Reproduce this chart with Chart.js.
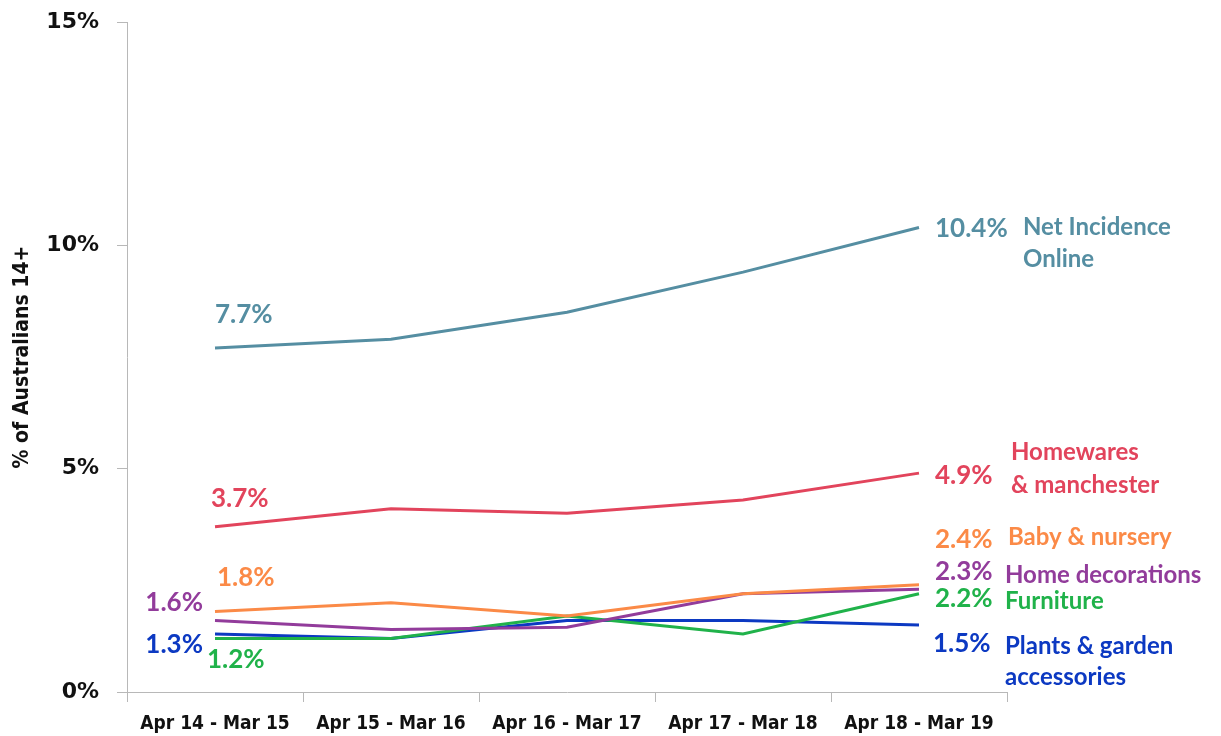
<!DOCTYPE html>
<html>
<head>
<meta charset="utf-8">
<script src="https://cdn.jsdelivr.net/npm/chart.js@4/dist/chart.umd.min.js"></script>
<style>
  html, body { margin: 0; padding: 0; background: #fff; }
  #wrap { width: 1221px; height: 736px; }
</style>
</head>
<body>
<div id="wrap"><canvas id="lineChart"></canvas></div>
<script>
// Data
const periods = ['Apr 14 - Mar 15', 'Apr 15 - Mar 16', 'Apr 16 - Mar 17', 'Apr 17 - Mar 18', 'Apr 18 - Mar 19'];
const netIncidence = [7.7, 7.9, 8.5, 9.4, 10.4];
const homewares = [3.7, 4.1, 4.0, 4.3, 4.9];
const babyNursery = [1.8, 2.0, 1.7, 2.2, 2.4];
const homeDecorations = [1.6, 1.4, 1.45, 2.2, 2.3];
const furniture = [1.2, 1.2, 1.7, 1.3, 2.2];
const plantsGarden = [1.3, 1.2, 1.6, 1.6, 1.5];
const yTicks = [0, 5, 10, 15];

const seriesNames = [
    ['Net Incidence', 'Online'],
    ['Homewares', '& manchester'],
    ['Baby & nursery'],
    ['Home decorations'],
    ['Furniture'],
    ['Plants & garden', 'accessories']
];

const colors = ['#558ea2', '#e2445c', '#fb8a47', '#923c9b', '#20b24a', '#0c39c2'];

// where the annotations sit, relative to first / last point
const labelPos = [
    { first: { dx: 0, dy: -33, align: 'left' }, last: { dx: 16, dy: 1 }, name: { dx: 104, dy: 0, lh: 32 } },
    { first: { dx: -4, dy: -28, align: 'left' }, last: { dx: 16, dy: 2 }, name: { dx: 92, dy: -21, lh: 33 } },
    { first: { dx: 2, dy: -34, align: 'left' }, last: { dx: 16, dy: -45 }, name: { dx: 89, dy: -48, lh: 30 } },
    { first: { dx: -12, dy: -18, align: 'right' }, last: { dx: 16, dy: -18 }, name: { dx: 86, dy: -14, lh: 30 } },
    { first: { dx: -8, dy: 21, align: 'left' }, last: { dx: 16, dy: 5 }, name: { dx: 86, dy: 8, lh: 30 } },
    { first: { dx: -12, dy: 11, align: 'right' }, last: { dx: 14, dy: 19 }, name: { dx: 86, dy: 21, lh: 31 } }
];

const allSeries = [netIncidence, homewares, babyNursery, homeDecorations, furniture, plantsGarden];

const data = {
    labels: periods,
    datasets: allSeries.map((vals, i) => ({
        label: seriesNames[i].join(' '),
        data: vals,
        borderColor: colors[i],
        borderWidth: 3,
        pointRadius: 0,
        tension: 0,
        fill: false
    }))
};

// annotation plugin
const endLabels = {
    id: 'endLabels',
    afterDatasetsDraw(chart) {
        const ctx = chart.ctx;
        ctx.save();
        ctx.textBaseline = 'middle';
        chart.data.datasets.forEach((ds, i) => {
            const meta = chart.getDatasetMeta(i);
            const p0 = meta.data[0];
            const pN = meta.data[meta.data.length - 1];
            const pos = labelPos[i];
            ctx.fillStyle = colors[i];
            ctx.font = 'bold 26px Lato';
            ctx.textAlign = pos.first.align;
            ctx.fillText(ds.data[0].toFixed(1) + '%', p0.x + pos.first.dx, p0.y + pos.first.dy);
            ctx.textAlign = 'left';
            ctx.fillText(ds.data[ds.data.length - 1].toFixed(1) + '%', pN.x + pos.last.dx, pN.y + pos.last.dy);
            ctx.font = 'bold 24px Lato';
            seriesNames[i].forEach((line, k) => {
                ctx.fillText(line, pN.x + pos.name.dx, pN.y + pos.name.dy + k * pos.name.lh);
            });
        });
        ctx.restore();
    }
};

const options = {
    responsive: true,
    maintainAspectRatio: false,
    animation: false,
    layout: {
        padding: { top: 22, right: 214, left: 0, bottom: 0 }
    },
    scales: {
        x: {
            offset: true,
            grid: {
                display: true,
                offset: true,
                drawOnChartArea: false,
                tickLength: 10,
                color: '#b8b8b8'
            },
            border: { color: '#b8b8b8', width: 1 },
            ticks: {
                color: '#111',
                padding: 11,
                maxRotation: 0,
                font: { family: 'DejaVu Sans Condensed', weight: 'bold', size: 19 }
            },
            afterFit(scale) {
                scale.height = 44;
                scale.paddingLeft = 0;
                scale.paddingRight = 0;
            }
        },
        y: {
            min: 0,
            max: 15,
            afterBuildTicks(scale) { scale.ticks = yTicks.map(v => ({ value: v })); },
            grid: {
                display: true,
                drawOnChartArea: false,
                tickLength: 10,
                color: '#b8b8b8'
            },
            border: { color: '#b8b8b8', width: 1 },
            ticks: {
                color: '#111',
                padding: 18,
                callback: v => v + '%',
                font: { family: 'DejaVu Sans', weight: 'bold', size: 22 }
            },
            title: {
                display: true,
                text: '% of Australians 14+',
                color: '#111',
                padding: { top: 10, bottom: 0 },
                font: { family: 'DejaVu Sans Condensed', weight: 'bold', size: 21 }
            },
            afterFit(scale) {
                scale.width = 127;
                scale.paddingTop = 0;
                scale.paddingBottom = 0;
            }
        }
    },
    plugins: {
        legend: { display: false },
        tooltip: { enabled: false }
    }
};

new Chart(document.getElementById('lineChart'), {
    type: 'line',
    data: data,
    options: options,
    plugins: [endLabels]
});
</script>
</body>
</html>
